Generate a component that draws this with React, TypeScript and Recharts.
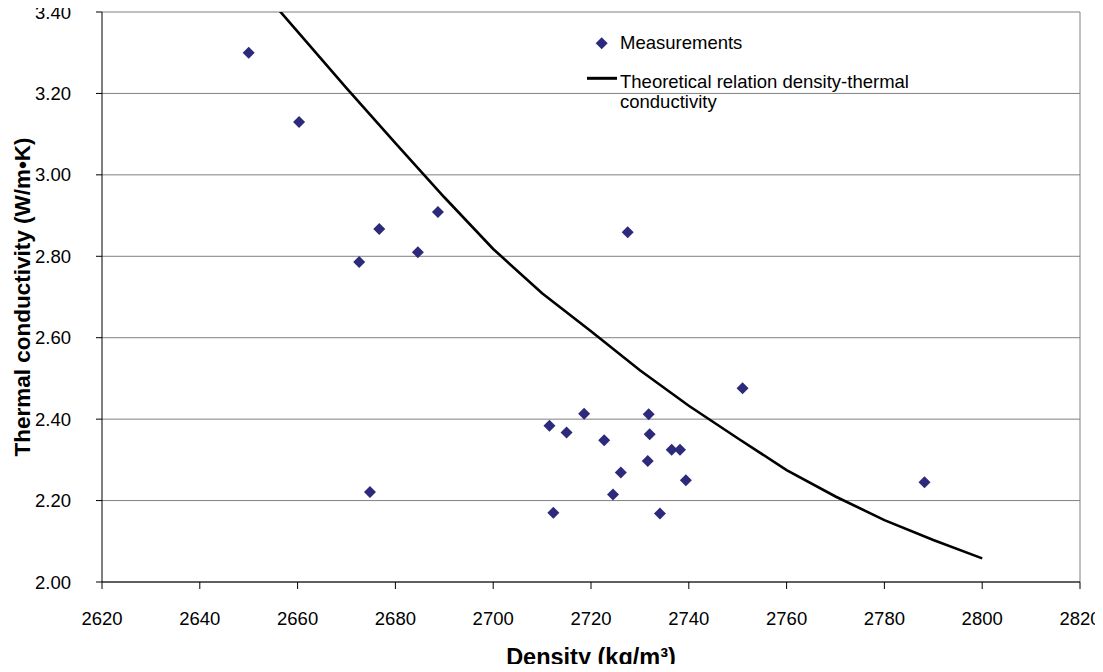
import React from 'react';
import { ComposedChart, Scatter, Line, XAxis, YAxis, CartesianGrid, ReferenceLine, Legend } from 'recharts';

// measured samples (density kg/m3, thermal conductivity W/m.K)
const measuredDensity = [
  2650, 2660.3, 2676.7, 2672.6, 2684.6, 2688.7, 2727.5, 2674.8, 2751, 2788.2,
  2711.5, 2715, 2718.6, 2722.7, 2731.8, 2732, 2736.5, 2738.2, 2731.6, 2726.1,
  2739.4, 2724.5, 2712.3, 2734.1,
];
const measuredConductivity = [
  3.30, 3.13, 2.867, 2.786, 2.81, 2.909, 2.859, 2.221, 2.476, 2.245,
  2.384, 2.367, 2.413, 2.348, 2.412, 2.363, 2.325, 2.325, 2.297, 2.269,
  2.25, 2.215, 2.17, 2.168,
];

// theoretical curve
const theoryDensity = [2650, 2660, 2670, 2680, 2690, 2700, 2710, 2720, 2730, 2740, 2750, 2760, 2770, 2780, 2790, 2800];
const theoryConductivity = [3.49, 3.352, 3.213, 3.078, 2.945, 2.818, 2.709, 2.616, 2.52, 2.433, 2.353, 2.275, 2.21, 2.152, 2.103, 2.058];

const xTicks = [2620, 2640, 2660, 2680, 2700, 2720, 2740, 2760, 2780, 2800, 2820];
const yTicks = [2.0, 2.2, 2.4, 2.6, 2.8, 3.0, 3.2, 3.4];

const measurements = measuredDensity.map((x, i) => ({ x, y: measuredConductivity[i] }));
const theory = theoryDensity.map((x, i) => ({ x, y: theoryConductivity[i] }));

const FONT = '"Liberation Sans", Arial, sans-serif';
const MARKER = '#2D2A7B';

const Diamond = (props: any) => {
  const { cx, cy } = props;
  if (cx == null || cy == null) return null;
  const r = 6;
  return <polygon points={`${cx},${cy - r} ${cx + r},${cy} ${cx},${cy + r} ${cx - r},${cy}`} fill={MARKER} />;
};

const renderLegend = () => (
  <div style={{ position: 'relative', width: 340, height: 80, fontFamily: FONT, fontSize: 18.5, color: '#000' }}>
    <svg width={30} height={80} style={{ position: 'absolute', left: 0, top: 0 }}>
      <polygon points="14.7,7.3 20.7,13.3 14.7,19.3 8.7,13.3" fill={MARKER} />
      <line x1={0} y1={48.3} x2={30} y2={48.3} stroke="#000" strokeWidth={3} />
    </svg>
    <div style={{ position: 'absolute', left: 33, top: 3, lineHeight: '20px', whiteSpace: 'nowrap' }}>Measurements</div>
    <div style={{ position: 'absolute', left: 33, top: 41.5, lineHeight: '20px', whiteSpace: 'nowrap' }}>
      Theoretical relation density-thermal
      <br />
      conductivity
    </div>
  </div>
);

export default function App() {
  return (
    <div style={{ margin: -8 }}>
      <ComposedChart width={1103} height={672} margin={{ top: 12, right: 23, left: 0, bottom: 0 }}>
        <CartesianGrid vertical={false} stroke="#808080" strokeWidth={1} />
        <XAxis
          type="number"
          dataKey="x"
          domain={[2620, 2820]}
          ticks={xTicks}
          interval={0}
          height={90}
          stroke="#000"
          tickSize={7}
          tickMargin={23}
          tick={{ fill: '#000', fontSize: 18.5, fontFamily: FONT }}
          label={{
            value: 'Density (kg/m³)',
            position: 'insideBottom',
            offset: 7,
            style: { fill: '#000', fontSize: 23.5, fontWeight: 'bold', fontFamily: FONT },
          }}
        />
        <YAxis
          type="number"
          dataKey="y"
          domain={[2.0, 3.4]}
          allowDataOverflow
          ticks={yTicks}
          interval={0}
          width={102}
          stroke="#000"
          tickSize={6}
          tickMargin={25}
          tickFormatter={(v: number) => v.toFixed(2)}
          tick={{ fill: '#000', fontSize: 18.5, fontFamily: FONT }}
          label={{
            value: 'Thermal conductivity (W/m•K)',
            angle: -90,
            position: 'center',
            dx: -28.5,
            style: { fill: '#000', fontSize: 22.5, fontWeight: 'bold', fontFamily: FONT, textAnchor: 'middle' },
          }}
        />
        <ReferenceLine x={2820} stroke="#808080" strokeWidth={1} />
        <Legend
          layout="horizontal"
          verticalAlign="middle"
          align="center"
          wrapperStyle={{ left: 587, top: 30, width: 340, height: 80 }}
          content={renderLegend}
        />
        <Line
          data={theory}
          dataKey="y"
          type="linear"
          stroke="#000"
          strokeWidth={2.6}
          dot={false}
          activeDot={false}
          isAnimationActive={false}
          name="Theoretical relation density-thermal conductivity"
        />
        <Scatter
          data={measurements}
          dataKey="y"
          shape={Diamond}
          isAnimationActive={false}
          name="Measurements"
        />
      </ComposedChart>
    </div>
  );
}
